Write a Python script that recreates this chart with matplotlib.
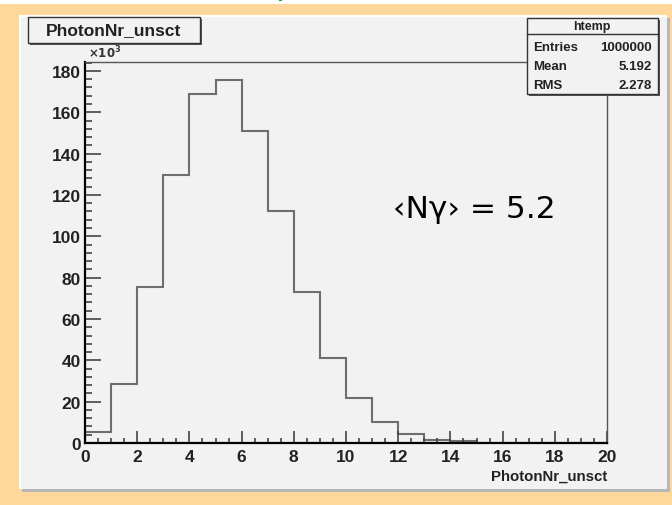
import numpy as np
import matplotlib
matplotlib.use('Agg')
import matplotlib.pyplot as plt
from matplotlib.patches import Rectangle
from matplotlib.ticker import MultipleLocator

# Bin contents (in units of 10^3 entries), bins of width 1 from 0 to 20
edges = np.arange(0, 21)
counts = [5.2, 28.7, 75.5, 129.8, 168.7, 175.5, 151.0, 112.2, 72.9, 41.1,
          21.8, 10.3, 4.4, 1.5, 0.8, 0.1, 0.0, 0.0, 0.0, 0.0]

hist_name = 'PhotonNr_unsct'
stats_title = 'htemp'
stats_rows = [('Entries', '1000000'), ('Mean', '5.192'), ('RMS', '2.278')]
note = '\u2039N\u03b3\u203a = 5.2'

W, H = 672, 506
orange = '#fdd89a'
panel = '#f2f2f2'
font = 'Liberation Sans'

fig = plt.figure(figsize=(W / 100, H / 100), dpi=100, facecolor=orange)


def fx(x):
    return x / W


def fy(y):
    return 1 - y / H


def box(x0, y0, x1, y1, **kw):
    # rectangle given in pixel coords (y from top)
    r = Rectangle((fx(x0), fy(y1)), fx(x1) - fx(x0), fy(y0) - fy(y1),
                  transform=fig.transFigure, **kw)
    fig.add_artist(r)
    return r


# white strip at the very top and the clipped green glyph
box(0, 0, W, 5, facecolor='white', edgecolor='none', zorder=-3)
box(279, 0, 282, 2, facecolor='#20a020', edgecolor='none', zorder=-3)

# ROOT canvas panel with bevel
box(22, 19, 670, 493, facecolor='#b8b8b8', edgecolor='none', zorder=-3)
box(19, 16, 667, 490, facecolor='white', edgecolor='none', zorder=-2)
box(21, 18, 667, 490, facecolor=panel, edgecolor='none', zorder=-1)

# frame
ax = fig.add_axes([fx(85), fy(444), fx(607) - fx(85), fy(63) - fy(444)])
ax.set_facecolor(panel)
ax.stairs(counts, edges, color='#6e6e6e', lw=1.5)
ax.set_xlim(0, 20)
ax.set_ylim(0, 184.3)

for s in ['left', 'bottom']:
    ax.spines[s].set_color('black')
    ax.spines[s].set_linewidth(1.6)
for s in ['top', 'right']:
    ax.spines[s].set_color('#555555')
    ax.spines[s].set_linewidth(1.0)

ax.xaxis.set_major_locator(MultipleLocator(2))
ax.xaxis.set_minor_locator(MultipleLocator(0.5))
ax.yaxis.set_major_locator(MultipleLocator(20))
ax.yaxis.set_minor_locator(MultipleLocator(4))
ax.tick_params(axis='y', which='major', direction='in', length=11.5, width=1.2,
               color='#444444', pad=3)
ax.tick_params(axis='y', which='minor', direction='in', length=5, width=1.2,
               color='#444444')
ax.tick_params(axis='x', which='major', direction='in', length=8.5, width=1.2,
               color='#444444', pad=4)
ax.tick_params(axis='x', which='minor', direction='in', length=3.6, width=1.2,
               color='#444444')
for lab in ax.get_xticklabels() + ax.get_yticklabels():
    lab.set_fontfamily(font)
    lab.set_fontweight('bold')
    lab.set_fontsize(12.5)
    lab.set_color('#222222')

ax.text(0.005, 1.004, r'$\mathbf{\times10^{3}}$', transform=ax.transAxes,
        ha='left', va='bottom', fontsize=8.5, color='#333333')
fig.text(fx(607), fy(477), hist_name, ha='right', va='center',
         fontfamily=font, fontweight='bold', fontsize=10.8, color='#222222')

fig.text(fx(474), fy(210), note, ha='center', va='center', fontsize=22.5,
         fontfamily='DejaVu Sans', color='black')

# title box
box(30, 20, 202, 46, facecolor='#555555', edgecolor='none', zorder=4)
box(28, 18, 200, 44, facecolor=panel, edgecolor='#333333', lw=1.0, zorder=5)
fig.text(fx(114), fy(31), hist_name, ha='center', va='center', zorder=6,
         fontfamily=font, fontweight='bold', fontsize=12.5, color='#222222')

# stats box
box(529, 21, 660, 97, facecolor='#555555', edgecolor='none', zorder=4)
box(527, 19, 658, 95, facecolor=panel, edgecolor='#333333', lw=1.0, zorder=5)
fig.add_artist(plt.Line2D([fx(527), fx(658)], [fy(35), fy(35)],
                          transform=fig.transFigure, color='#333333', lw=1.0,
                          zorder=6))
fig.text(fx(592), fy(27), stats_title, ha='center', va='center', zorder=6,
         fontfamily=font, fontweight='bold', fontsize=9, color='#222222')
for i, (k, v) in enumerate(stats_rows):
    yy = fy(48 + i * 19)
    fig.text(fx(533), yy, k, ha='left', va='center', zorder=6,
             fontfamily=font, fontweight='bold', fontsize=9.5, color='#222222')
    fig.text(fx(652), yy, v, ha='right', va='center', zorder=6,
             fontfamily=font, fontweight='bold', fontsize=9.5, color='#222222')

fig.savefig('out.png', dpi=100, facecolor=orange)
